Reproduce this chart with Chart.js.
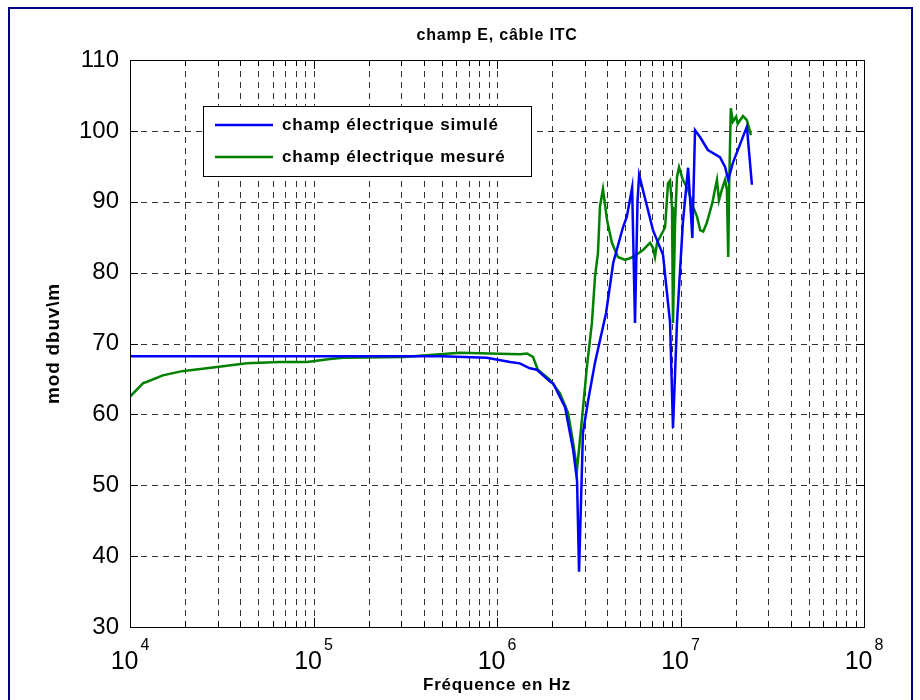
<!DOCTYPE html>
<html>
<head>
<meta charset="utf-8">
<title>champ E, câble ITC</title>
<script src="https://cdn.jsdelivr.net/npm/chart.js@4.4.1/dist/chart.umd.min.js"></script>
<style>
  html, body { margin: 0; padding: 0; background: #fff; }
  #wrap { width: 920px; height: 700px; position: relative; }
</style>
</head>
<body>
<div id="wrap"><canvas id="chart" width="920" height="700"></canvas></div>
<script>
// Données (fréquence en Hz, niveau en dBµV/m)
const chartTitle = 'champ E, câble ITC';
const xLabel = 'Fréquence en Hz';
const yLabel = 'mod dbuv\\m';
const seriesLabels = ['champ électrique simulé', 'champ électrique mesuré'];

const xExponents = [4, 5, 6, 7, 8];
const yTicks = [30, 40, 50, 60, 70, 80, 90, 100, 110];

// champ simulé
const simFreq = [1e4, 1e5, 5e5, 8.8e5, 1.18e6, 1.33e6, 1.51e6, 1.65e6, 1.95e6, 2.02e6, 2.35e6, 2.6e6, 2.73e6, 2.8e6,
  2.94e6, 3.14e6, 3.42e6, 3.93e6, 4.3e6, 4.86e6, 5.1e6, 5.45e6, 5.65e6, 5.83e6, 5.95e6, 7.08e6, 8.03e6, 8.77e6, 9.1e6,
  9.57e6, 1.03e7, 1.1e7, 1.13e7, 1.16e7, 1.2e7, 1.28e7, 1.41e7, 1.64e7, 1.75e7, 1.82e7, 1.93e7, 2.3e7, 2.45e7];
const simVal = [68.2, 68.2, 68.2, 68.0, 67.4, 67.2, 66.5, 66.3, 64.6, 64.4, 61.0, 55.0, 50.7, 37.8,
  57.4, 62.0, 67.3, 74.3, 81.4, 86.4, 87.9, 92.0, 72.9, 90.0, 93.8, 86.0, 82.5, 73.0, 58.1,
  73.0, 87.0, 94.8, 90.0, 84.9, 100.1, 99.1, 97.3, 96.3, 94.9, 93.1, 95.5, 100.6, 92.4];

// champ mesuré
const mesFreq = [1e4, 1.18e4, 1.24e4, 1.51e4, 1.92e4, 2.83e4, 4.34e4, 6.56e4, 9.22e4, 1.23e5, 1.45e5, 3.08e5, 6.29e5,
  1.33e6, 1.46e6, 1.57e6, 1.67e6, 1.94e6, 2.2e6, 2.44e6, 2.6e6, 2.73e6, 2.91e6, 3.09e6, 3.29e6, 3.42e6, 3.55e6,
  3.64e6, 3.78e6, 3.98e6, 4.23e6, 4.56e6, 4.99e6, 5.51e6, 6.25e6, 6.82e6, 7.08e6, 7.26e6, 7.45e6, 8.24e6, 8.55e6,
  8.77e6, 8.99e6, 9.1e6, 9.34e6, 9.57e6, 9.82e6, 1.03e7, 1.1e7, 1.17e7, 1.23e7, 1.28e7, 1.33e7, 1.39e7, 1.49e7,
  1.54e7, 1.58e7, 1.62e7, 1.68e7, 1.75e7, 1.79e7, 1.82e7, 1.84e7, 1.88e7, 1.93e7, 2.01e7, 2.05e7, 2.19e7, 2.3e7, 2.42e7];
const mesVal = [62.5, 64.4, 64.6, 65.5, 66.1, 66.6, 67.2, 67.4, 67.4, 67.8, 68.0, 68.1, 68.7,
  68.5, 68.6, 68.1, 66.3, 64.9, 63.0, 60.2, 56.0, 52.2, 59.6, 66.7, 72.9, 79.4, 82.8,
  89.3, 91.8, 87.4, 84.2, 82.2, 81.8, 82.2, 83.2, 84.2, 83.5, 82.2, 84.2, 86.4, 92.6,
  93.0, 89.3, 72.9, 87.0, 93.5, 94.9, 93.1, 91.7, 89.3, 87.9, 86.0, 85.8, 87.0, 89.8,
  91.7, 93.1, 90.2, 91.7, 93.1, 91.7, 82.2, 91.7, 103.2, 101.3, 102.0, 101.0, 102.1, 101.5, 99.4];

const seriesColors = ['#0000ff', '#008000'];

function toPoints(xs, ys) {
  return xs.map((x, i) => ({ x: x, y: ys[i] }));
}

// Fond, grille, cadre, légende et textes façon MATLAB
const matlabPlugin = {
  id: 'matlab',
  beforeDraw(chart) {
    const ctx = chart.ctx;
    ctx.save();
    ctx.fillStyle = '#fff';
    ctx.fillRect(0, 0, chart.width, chart.height);
    // cadre de la figure
    ctx.strokeStyle = '#000080';
    ctx.lineWidth = 2;
    ctx.beginPath();
    ctx.moveTo(9, 700);
    ctx.lineTo(9, 8);
    ctx.lineTo(912, 8);
    ctx.lineTo(912, 700);
    ctx.stroke();
    ctx.restore();
  },
  beforeDatasetsDraw(chart) {
    const ctx = chart.ctx;
    const a = chart.chartArea;
    const xs = chart.scales.x, ys = chart.scales.y;
    ctx.save();
    ctx.strokeStyle = 'rgba(0,0,0,0.8)';
    ctx.lineWidth = 1;
    ctx.setLineDash([6, 5]);
    xs.ticks.forEach(t => {
      const px = Math.round(xs.getPixelForValue(t.value)) + 0.5;
      if (px <= a.left + 1 || px >= a.right - 1) return;
      ctx.beginPath();
      ctx.moveTo(px, a.bottom);
      ctx.lineTo(px, a.top);
      ctx.stroke();
    });
    yTicks.forEach(v => {
      const py = Math.round(ys.getPixelForValue(v)) + 0.5;
      if (py <= a.top + 1 || py >= a.bottom - 1) return;
      ctx.beginPath();
      ctx.moveTo(a.left, py);
      ctx.lineTo(a.right, py);
      ctx.stroke();
    });
    ctx.restore();
  },
  afterDatasetsDraw(chart) {
    const ctx = chart.ctx;
    const a = chart.chartArea;
    const xs = chart.scales.x, ys = chart.scales.y;
    ctx.save();
    // cadre des axes et graduations
    ctx.strokeStyle = '#000';
    ctx.lineWidth = 1;
    ctx.strokeRect(Math.round(a.left) + 0.5, Math.round(a.top) + 0.5,
      Math.round(a.right - a.left), Math.round(a.bottom - a.top));
    ctx.beginPath();
    xs.ticks.forEach(t => {
      const px = Math.round(xs.getPixelForValue(t.value)) + 0.5;
      const len = t.major ? 9 : 6;
      ctx.moveTo(px, a.bottom); ctx.lineTo(px, a.bottom - len);
      ctx.moveTo(px, a.top); ctx.lineTo(px, a.top + len);
    });
    yTicks.forEach(v => {
      const py = Math.round(ys.getPixelForValue(v)) + 0.5;
      ctx.moveTo(a.left, py); ctx.lineTo(a.left + 8, py);
      ctx.moveTo(a.right, py); ctx.lineTo(a.right - 8, py);
    });
    ctx.stroke();

    // étiquettes de l'axe x : 10^n
    ctx.fillStyle = '#000';
    ctx.textBaseline = 'alphabetic';
    ctx.textAlign = 'left';
    xExponents.forEach(e => {
      const px = xs.getPixelForValue(Math.pow(10, e));
      ctx.font = '25px "Liberation Sans", Arial, sans-serif';
      const wb = ctx.measureText('10').width;
      ctx.font = '16px "Liberation Sans", Arial, sans-serif';
      const we = ctx.measureText(String(e)).width;
      const x0 = px - (wb + we + 2) / 2;
      ctx.font = '25px "Liberation Sans", Arial, sans-serif';
      ctx.fillText('10', x0, 669);
      ctx.font = '16px "Liberation Sans", Arial, sans-serif';
      ctx.fillText(String(e), x0 + wb + 2, 650);
    });

    // titres
    const cx = (a.left + a.right) / 2;
    if ('letterSpacing' in ctx) ctx.letterSpacing = '0.8px';
    ctx.textAlign = 'center';
    ctx.textBaseline = 'middle';
    ctx.font = 'bold 16px "Liberation Sans", Arial, sans-serif';
    ctx.fillText(chartTitle, cx, 36);
    ctx.font = 'bold 17px "Liberation Sans", Arial, sans-serif';
    ctx.fillText(xLabel, cx, 685);
    ctx.save();
    ctx.translate(54, (a.top + a.bottom) / 2);
    ctx.rotate(-Math.PI / 2);
    ctx.font = 'bold 19px "Liberation Sans", Arial, sans-serif';
    ctx.fillText(yLabel, 0, 0);
    ctx.restore();

    // légende
    const lx = 203, ly = 106, lw = 328, lh = 70;
    ctx.fillStyle = '#fff';
    ctx.fillRect(lx, ly, lw, lh);
    ctx.strokeStyle = '#000';
    ctx.lineWidth = 1;
    ctx.strokeRect(lx + 0.5, ly + 0.5, lw, lh);
    ctx.textAlign = 'left';
    ctx.fillStyle = '#000';
    ctx.font = 'bold 17px "Liberation Sans", Arial, sans-serif';
    chart.data.datasets.forEach((ds, i) => {
      const yy = 125 + i * 32;
      ctx.strokeStyle = ds.borderColor;
      ctx.lineWidth = 2.5;
      ctx.beginPath();
      ctx.moveTo(215, yy);
      ctx.lineTo(273, yy);
      ctx.stroke();
      ctx.fillText(ds.label, 282, yy);
    });
    ctx.restore();
  }
};

new Chart(document.getElementById('chart'), {
  type: 'scatter',
  data: {
    datasets: [
      {
        label: seriesLabels[0],
        data: toPoints(simFreq, simVal),
        showLine: true,
        borderColor: seriesColors[0],
        backgroundColor: seriesColors[0],
        borderWidth: 2.5,
        pointRadius: 0,
        tension: 0
      },
      {
        label: seriesLabels[1],
        data: toPoints(mesFreq, mesVal),
        showLine: true,
        borderColor: seriesColors[1],
        backgroundColor: seriesColors[1],
        borderWidth: 2.5,
        pointRadius: 0,
        tension: 0
      }
    ]
  },
  options: {
    responsive: false,
    animation: false,
    layout: { padding: { top: 60, right: 56, left: 0, bottom: 0 } },
    plugins: {
      legend: { display: false },
      title: { display: false },
      tooltip: { enabled: false }
    },
    scales: {
      x: {
        type: 'logarithmic',
        min: Math.pow(10, xExponents[0]),
        max: Math.pow(10, xExponents[xExponents.length - 1]),
        grid: { display: false },
        border: { display: false },
        ticks: { display: false },
        afterBuildTicks(scale) {
          const ticks = [];
          for (let k = 0; k < xExponents.length; k++) {
            const base = Math.pow(10, xExponents[k]);
            if (k === xExponents.length - 1) { ticks.push({ value: base, major: true }); break; }
            for (let m = 1; m <= 9; m++) ticks.push({ value: m * base, major: m === 1 });
          }
          scale.ticks = ticks;
        },
        afterFit(scale) { scale.height = 73; }
      },
      y: {
        min: yTicks[0],
        max: yTicks[yTicks.length - 1],
        grid: { display: false },
        border: { display: false },
        ticks: {
          stepSize: 10,
          color: '#000',
          padding: 3,
          font: { family: '"Liberation Sans", Arial, sans-serif', size: 24 }
        },
        afterFit(scale) { scale.width = 130; }
      }
    }
  },
  plugins: [matlabPlugin]
});
</script>
</body>
</html>
